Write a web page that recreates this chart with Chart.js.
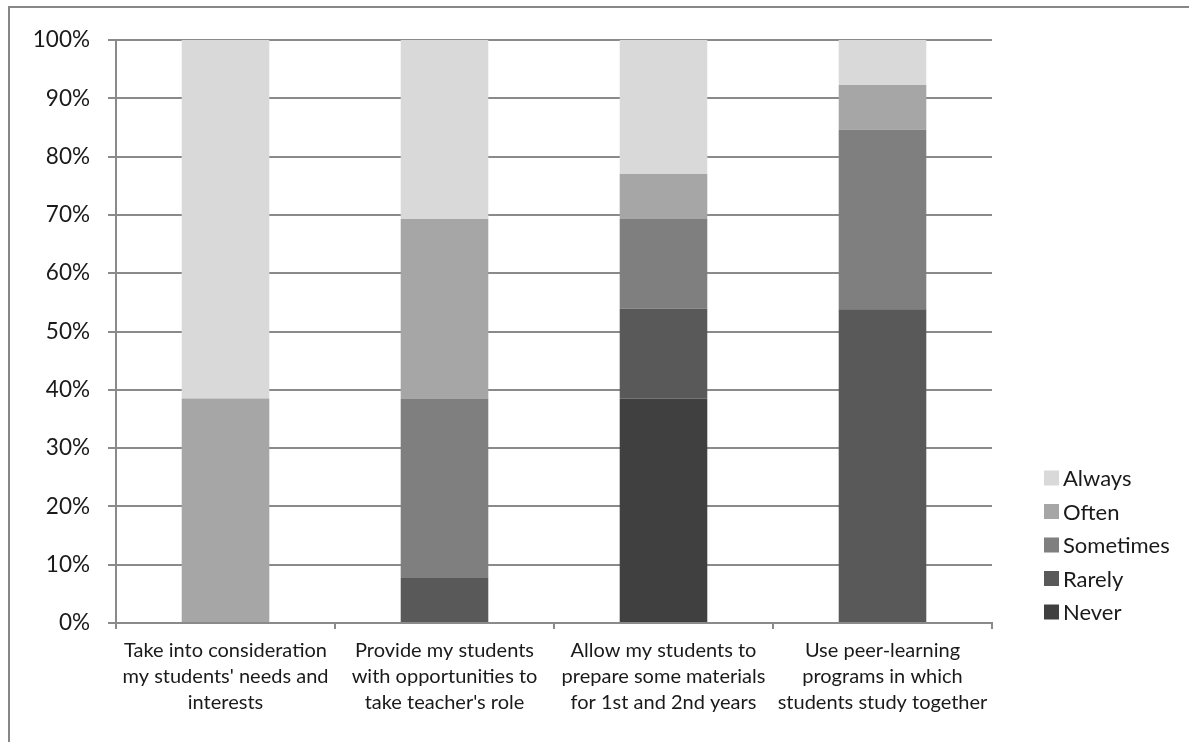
<!DOCTYPE html>
<html>
<head>
<meta charset="utf-8">
<script src="https://cdn.jsdelivr.net/npm/chart.js@4/dist/chart.umd.min.js"></script>
<style>
  html, body { margin: 0; padding: 0; background: #fff; overflow: hidden; }
  #frame { position: absolute; left: 8px; top: 6px; width: 1400px; height: 900px;
           border-top: 2px solid #878787; border-left: 2px solid #878787; }
  #chart { position: absolute; left: 0; top: 0; }
</style>
</head>
<body>
<div id="frame"></div>
<canvas id="chart" width="1189" height="742"></canvas>
<script>
// Survey items (x-axis categories), wrapped onto three lines each
const categories = [
  ["Take into consideration", "my students' needs and", "interests"],
  ["Provide my students", "with opportunities to", "take teacher's role"],
  ["Allow my students to", "prepare some materials", "for 1st and 2nd years"],
  ["Use peer-learning", "programs in which", "students study together"]
];

// Share of responses per frequency level, in percent
const never     = [0,    0,    38.5, 0];
const rarely    = [0,    7.7,  15.4, 53.8];
const sometimes = [0,    30.8, 15.4, 30.8];
const often     = [38.5, 30.8, 7.7,  7.7];
const always    = [61.5, 30.8, 23.1, 7.7];

const yTicks = [0, 10, 20, 30, 40, 50, 60, 70, 80, 90, 100];

const FONT = "Lato, 'Open Sans', sans-serif";
const GRID = "#8a8a8a";

// Legend drawn at the right, listing the top of the stack first
const sideLegend = {
  id: "sideLegend",
  afterDraw(chart) {
    const ctx = chart.ctx;
    const sets = chart.data.datasets.slice().reverse();
    const x = 1044, y0 = 478, step = 33.5, box = 15;
    ctx.save();
    ctx.font = "22px " + FONT;
    ctx.textBaseline = "middle";
    ctx.textAlign = "left";
    sets.forEach((ds, i) => {
      const cy = y0 + i * step;
      ctx.fillStyle = ds.backgroundColor;
      ctx.fillRect(x, cy - box / 2, box, box);
      ctx.fillStyle = "#1a1a1a";
      ctx.fillText(ds.label, x + 19, cy + 1);
    });
    ctx.restore();
  }
};

new Chart(document.getElementById("chart"), {
  type: "bar",
  data: {
    labels: categories,
    datasets: [
      { label: "Never",     data: never,     backgroundColor: "#404040" },
      { label: "Rarely",    data: rarely,    backgroundColor: "#595959" },
      { label: "Sometimes", data: sometimes, backgroundColor: "#7f7f7f" },
      { label: "Often",     data: often,     backgroundColor: "#a6a6a6" },
      { label: "Always",    data: always,    backgroundColor: "#d9d9d9" }
    ]
  },
  options: {
    responsive: false,
    animation: false,
    events: [],
    datasets: { bar: { categoryPercentage: 1, barPercentage: 0.4, borderWidth: 0 } },
    layout: { padding: { top: 40, right: 197, left: 0, bottom: 0 } },
    plugins: { legend: { display: false }, tooltip: { enabled: false } },
    scales: {
      x: {
        stacked: true,
        offset: true,
        grid: { display: true, drawOnChartArea: false, offset: true, color: GRID, lineWidth: 2, tickLength: 6 },
        border: { display: true, color: GRID, width: 2 },
        ticks: { color: "#1a1a1a", padding: 9, maxRotation: 0, autoSkip: false,
                 font: { family: FONT, size: 20, lineHeight: 1.3 } },
        afterFit(scale) { scale.height = 742 - 623; }
      },
      y: {
        stacked: true,
        min: 0, max: 100,
        afterBuildTicks(scale) { scale.ticks = yTicks.map(v => ({ value: v })); },
        grid: { color: GRID, lineWidth: 2, tickLength: 8 },
        border: { display: true, color: GRID, width: 2 },
        ticks: { color: "#1a1a1a", padding: 18, callback: v => v + "%",
                 font: { family: FONT, size: 22.5 } },
        afterFit(scale) { scale.width = 116; }
      }
    }
  },
  plugins: [sideLegend]
});
</script>
</body>
</html>
